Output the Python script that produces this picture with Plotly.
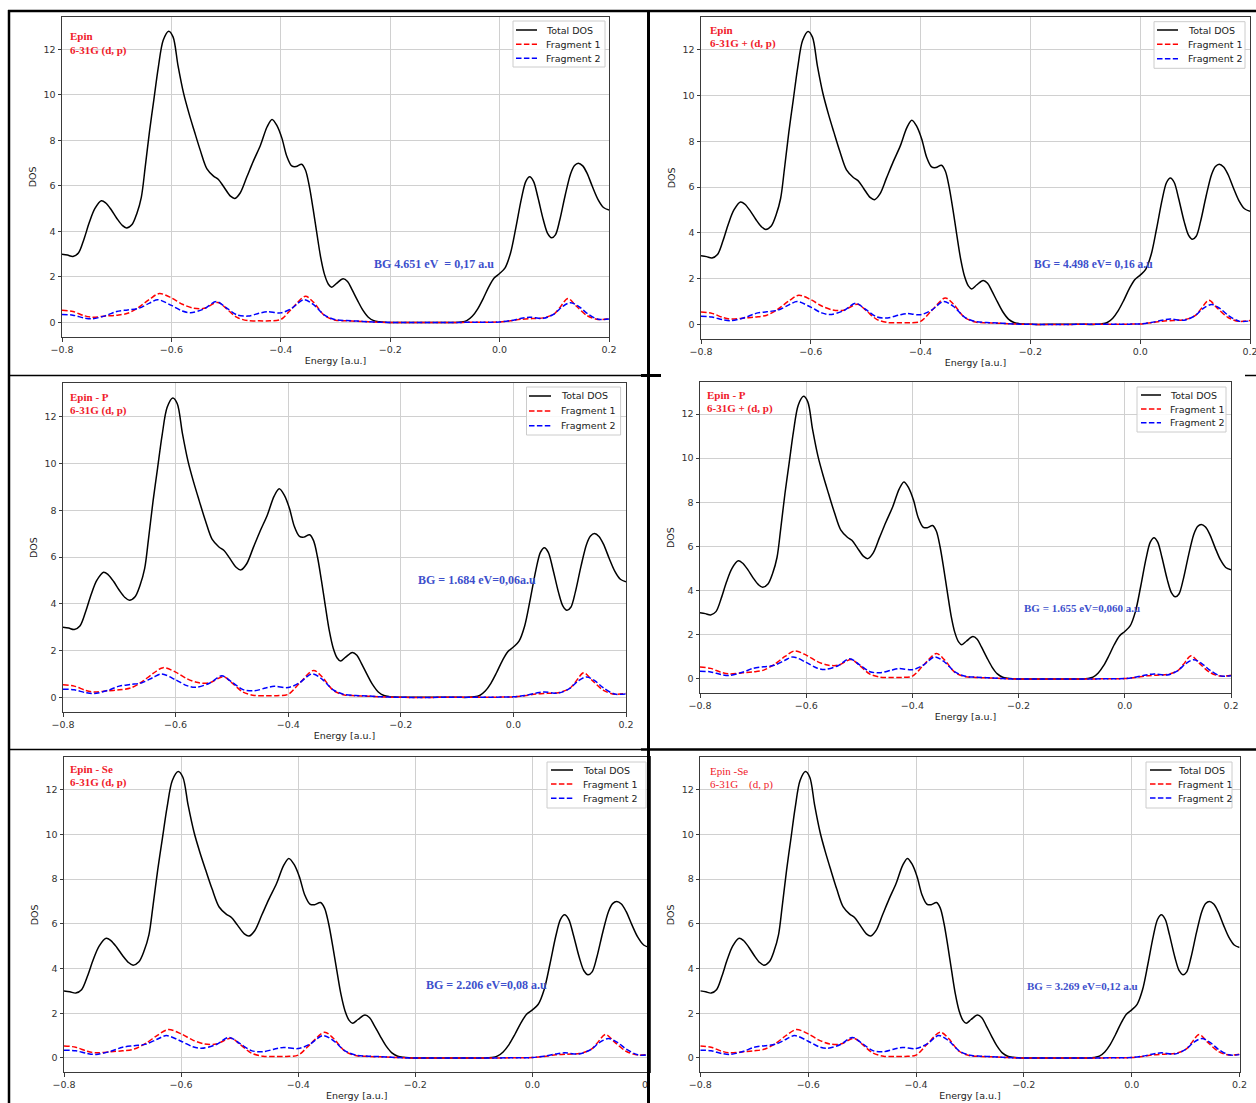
import plotly.graph_objects as go

W, H = 1256, 1103

# ---- density of states (shared by all six calculations) ----
ENERGY_TOTAL = [-0.800, -0.790, -0.780, -0.770, -0.760, -0.750, -0.740, -0.728, -0.720, -0.710,
                -0.700, -0.690, -0.682, -0.672, -0.663, -0.655, -0.648, -0.640, -0.632, -0.624,
                -0.615, -0.605, -0.597, -0.588, -0.578, -0.568, -0.558, -0.547, -0.535, -0.523,
                -0.514, -0.504, -0.492, -0.484, -0.474, -0.462, -0.450, -0.437, -0.425, -0.416,
                -0.407, -0.398, -0.389, -0.380, -0.372, -0.362, -0.355, -0.348, -0.341, -0.334,
                -0.327, -0.320, -0.313, -0.307, -0.298, -0.286, -0.278, -0.270, -0.260, -0.250,
                -0.240, -0.230, -0.220, -0.210, -0.200, -0.150, -0.100, -0.080, -0.070, -0.060,
                -0.050, -0.040, -0.030, -0.020, -0.010, 0.000, 0.010, 0.020, 0.030, 0.040,
                0.048, 0.055, 0.062, 0.070, 0.080, 0.088, 0.095, 0.102, 0.110, 0.120,
                0.130, 0.137, 0.144, 0.152, 0.160, 0.170, 0.180, 0.190, 0.200]
TOTAL_DOS = [3.00, 2.96, 2.90, 3.05, 3.65, 4.40, 5.00, 5.35, 5.25, 4.95,
             4.58, 4.27, 4.15, 4.30, 4.80, 5.50, 6.80, 8.40, 9.80, 11.20,
             12.40, 12.80, 12.55, 11.30, 10.10, 9.20, 8.40, 7.55, 6.75, 6.43,
             6.28, 5.95, 5.55, 5.45, 5.70, 6.40, 7.10, 7.80, 8.60, 8.92,
             8.65, 8.10, 7.30, 6.88, 6.85, 6.95, 6.70, 6.00, 5.00, 3.90,
             2.85, 2.10, 1.68, 1.55, 1.72, 1.92, 1.80, 1.45, 0.98, 0.54,
             0.23, 0.08, 0.03, 0.01, 0.00, 0.00, 0.00, 0.00, 0.02, 0.08,
             0.27, 0.60, 1.05, 1.55, 1.95, 2.15, 2.40, 3.05, 4.20, 5.45,
             6.20, 6.40, 6.20, 5.50, 4.50, 3.90, 3.72, 3.85, 4.50, 5.60,
             6.55, 6.90, 7.00, 6.88, 6.55, 5.95, 5.40, 5.05, 4.94]

ENERGY_FRAG1 = [-0.800, -0.780, -0.760, -0.745, -0.720, -0.700, -0.680, -0.660, -0.640, -0.622,
                -0.600, -0.580, -0.560, -0.540, -0.515, -0.500, -0.480, -0.460, -0.440, -0.420,
                -0.400, -0.380, -0.355, -0.340, -0.320, -0.300, -0.280, -0.260, -0.240, -0.220,
                -0.200, -0.100, -0.020, 0.000, 0.020, 0.040, 0.060, 0.080, 0.100, 0.110,
                0.125, 0.140, 0.160, 0.180, 0.200]
FRAGMENT_1 = [0.54, 0.48, 0.30, 0.23, 0.28, 0.32, 0.40, 0.66, 1.02, 1.27,
              1.08, 0.80, 0.63, 0.62, 0.88, 0.62, 0.22, 0.08, 0.07, 0.07,
              0.13, 0.60, 1.15, 0.88, 0.30, 0.10, 0.07, 0.05, 0.03, 0.01,
              0.00, 0.00, 0.01, 0.02, 0.07, 0.14, 0.17, 0.20, 0.38, 0.65,
              1.05, 0.72, 0.30, 0.13, 0.17]

ENERGY_FRAG2 = [-0.800, -0.780, -0.760, -0.745, -0.720, -0.700, -0.680, -0.660, -0.640, -0.625,
                -0.600, -0.580, -0.565, -0.540, -0.518, -0.500, -0.480, -0.460, -0.440, -0.425,
                -0.400, -0.380, -0.358, -0.340, -0.320, -0.300, -0.280, -0.260, -0.240, -0.220,
                -0.200, -0.100, -0.020, 0.000, 0.020, 0.040, 0.055, 0.080, 0.100, 0.115,
                0.130, 0.145, 0.160, 0.180, 0.200]
FRAGMENT_2 = [0.35, 0.32, 0.20, 0.16, 0.30, 0.48, 0.55, 0.62, 0.85, 1.00,
              0.75, 0.50, 0.43, 0.60, 0.92, 0.65, 0.33, 0.28, 0.40, 0.47,
              0.42, 0.62, 1.00, 0.78, 0.32, 0.12, 0.08, 0.06, 0.03, 0.01,
              0.00, 0.00, 0.01, 0.02, 0.08, 0.18, 0.23, 0.18, 0.38, 0.70,
              0.87, 0.70, 0.40, 0.14, 0.15]

SERIES_NAMES = ["Total DOS", "Fragment 1", "Fragment 2"]
SERIES_COLORS = ["#000000", "#ff0000", "#0000ff"]

X_TICKS = [-0.8, -0.6, -0.4, -0.2, 0.0, 0.2]
X_TICK_TEXT = ["\u22120.8", "\u22120.6", "\u22120.4", "\u22120.2", "0.0", "0.2"]
Y_TICKS = [0, 2, 4, 6, 8, 10, 12]
X_RANGE = [-0.8, 0.2]
Y_RANGE = [-0.64, 13.44]

SYSTEM_LABELS = ["Epin", "Epin", "Epin - P", "Epin - P", "Epin - Se", "Epin -Se"]
BASIS_LABELS = ["6-31G (d, p)", "6-31G + (d, p)", "6-31G (d, p)", "6-31G + (d, p)",
                "6-31G (d, p)", "6-31G\u00a0\u00a0\u00a0\u00a0(d, p)"]
BAND_GAP_LABELS = ["BG 4.651 eV\u00a0\u00a0= 0,17 a.u", "BG = 4.498 eV= 0,16 a.u",
                   "BG = 1.684 eV=0,06a.u", "BG = 1.655 eV=0,060 a.u",
                   "BG = 2.206 eV=0,08 a.u", "BG = 3.269 eV=0,12 a.u"]

# ---- page geometry in pixels ----
PANELS = [
    dict(box=(62, 609, 16.6, 337.0), title=(67.5, 36, 50), bg=(372, 264, 12),
         leg=(513, 605, 21, 67), rows=(30, 44.3, 58.3), sample=(516, 537), text_x=544, bold=True),
    dict(box=(701, 1250, 16.8, 339.0), title=(707.5, 30, 43.5), bg=(1032, 264, 11.5),
         leg=(1154, 1245, 21.7, 68.3), rows=(30, 44.3, 58.7), sample=(1157, 1178), text_x=1186, bold=True),
    dict(box=(63, 626, 383.0, 712.3), title=(68.4, 397, 411), bg=(416, 580, 12),
         leg=(526.5, 620.6, 387, 435), rows=(396, 411, 425.7), sample=(529, 551), text_x=559, bold=True),
    dict(box=(700, 1231, 382.2, 693.1), title=(704.8, 395, 408), bg=(1022, 608, 11),
         leg=(1137, 1226, 387, 432), rows=(395, 409, 422.7), sample=(1141, 1161), text_x=1168, bold=True),
    dict(box=(64, 649.5, 757.3, 1072.3), title=(68, 769, 782), bg=(424, 985, 12),
         leg=(547, 646, 762, 808), rows=(770, 784, 798.3), sample=(551, 573), text_x=581, bold=True),
    dict(box=(700.3, 1239.6, 757.3, 1072.3), title=(707.5, 771, 784), bg=(1025, 986, 11),
         leg=(1146, 1232, 762, 808), rows=(770, 784, 798), sample=(1150, 1171.5), text_x=1176, bold=False),
]


def px(x):
    return x / W


def py(y):
    return 1 - y / H


TICK_FONT = dict(family="DejaVu Sans", size=9.5, color="#333333")
LABEL_FONT = dict(family="DejaVu Sans", size=9.5, color="#222222")
RED = "#f0202a"
BLUE = "#3d4fcc"
DASHED = "5.5px,2.4px"

fig = go.Figure()
shapes = []
annotations = []

for i, p in enumerate(PANELS):
    n = i + 1
    xa = "x" if n == 1 else f"x{n}"
    ya = "y" if n == 1 else f"y{n}"
    left, right, top, bottom = p["box"]

    series = [(ENERGY_TOTAL, TOTAL_DOS, "solid"),
              (ENERGY_FRAG1, FRAGMENT_1, DASHED),
              (ENERGY_FRAG2, FRAGMENT_2, DASHED)]
    for (ex, vals, dash), name, color in zip(series, SERIES_NAMES, SERIES_COLORS):
        fig.add_trace(go.Scatter(
            x=ex, y=vals, mode="lines", name=name, xaxis=xa, yaxis=ya,
            line=dict(color=color, width=1.5, dash=dash, shape="spline", smoothing=0.9),
            showlegend=False, hoverinfo="skip"))

    axis_common = dict(showline=True, mirror=True, linecolor="#3a3a3a", linewidth=1,
                       ticks="outside", ticklen=3.5, tickwidth=1, tickcolor="#3a3a3a",
                       showgrid=True, gridcolor="#d0d0d0", gridwidth=1, zeroline=False,
                       tickfont=TICK_FONT, fixedrange=True, automargin=False,
                       ticklabeloverflow="allow")
    fig.layout[("xaxis" if n == 1 else f"xaxis{n}")] = dict(
        domain=[px(left), px(right)], anchor=ya, range=X_RANGE,
        tickmode="array", tickvals=X_TICKS, ticktext=X_TICK_TEXT,
        title=dict(text="Energy [a.u.]", font=LABEL_FONT, standoff=3), **axis_common)
    fig.layout[("yaxis" if n == 1 else f"yaxis{n}")] = dict(
        domain=[py(bottom), py(top)], anchor=xa, range=Y_RANGE,
        tickmode="array", tickvals=Y_TICKS,
        title=dict(text="DOS", font=LABEL_FONT, standoff=5), **axis_common)

    # system / basis set labels
    tx, ty1, ty2 = p["title"]
    wrap = (lambda s: f"<b>{s}</b>") if p["bold"] else (lambda s: s)
    for text, ty in ((SYSTEM_LABELS[i], ty1), (BASIS_LABELS[i], ty2)):
        annotations.append(dict(text=wrap(text), x=px(tx), y=py(ty), xref="paper", yref="paper",
                                xanchor="left", yanchor="middle", showarrow=False,
                                font=dict(family="Liberation Serif", size=11, color=RED)))
    # band gap label
    bx, by, bsize = p["bg"]
    annotations.append(dict(text=f"<b>{BAND_GAP_LABELS[i]}</b>", x=px(bx), y=py(by), xref="paper", yref="paper",
                            xanchor="left", yanchor="middle", showarrow=False,
                            font=dict(family="Liberation Serif", size=bsize, color=BLUE)))

    # legend box
    l0, l1, t0, t1 = p["leg"]
    shapes.append(dict(type="rect", xref="paper", yref="paper", x0=px(l0), x1=px(l1), y0=py(t1), y1=py(t0),
                       line=dict(color="#cccccc", width=1), fillcolor="rgba(255,255,255,0.85)", layer="above"))
    s0, s1 = p["sample"]
    for row_y, name, color, dash in zip(p["rows"], SERIES_NAMES, SERIES_COLORS, ["solid", DASHED, DASHED]):
        shapes.append(dict(type="line", xref="paper", yref="paper", x0=px(s0), x1=px(s1),
                           y0=py(row_y), y1=py(row_y), line=dict(color=color, width=1.5, dash=dash),
                           layer="above"))
        annotations.append(dict(text=name, x=px(p["text_x"]), y=py(row_y), xref="paper", yref="paper",
                                xanchor="left", yanchor="middle", showarrow=False, font=LABEL_FONT))

# the lower-left panel is cut at the page divider
shapes.append(dict(type="rect", xref="paper", yref="paper", x0=px(649.5), x1=px(672), y0=py(1093), y1=py(1075),
                   line=dict(width=0), fillcolor="white", layer="above"))


# page divider lines
def hline(x0, x1, y, w):
    return dict(type="line", xref="paper", yref="paper", x0=px(x0), x1=px(x1), y0=py(y), y1=py(y),
                line=dict(color="black", width=w), layer="above")


def vline(x, y0, y1, w):
    return dict(type="line", xref="paper", yref="paper", x0=px(x), x1=px(x), y0=py(y0), y1=py(y1),
                line=dict(color="black", width=w), layer="above")


shapes += [
    hline(8, 1256, 11, 2.5),
    vline(9, 10, 1103, 2.5),
    vline(648.5, 10, 1103, 3),
    hline(8, 641, 375.5, 1.5),
    hline(641, 661, 375.5, 3),
    hline(1245, 1256, 375.5, 1.5),
    hline(8, 641, 749.5, 1.5),
    hline(641, 1256, 749.5, 2.5),
]

fig.update_layout(
    width=W, height=H, margin=dict(l=0, r=0, t=0, b=0, autoexpand=False),
    paper_bgcolor="white", plot_bgcolor="white",
    shapes=shapes, annotations=annotations, showlegend=False,
)

fig.write_html("out.html")
